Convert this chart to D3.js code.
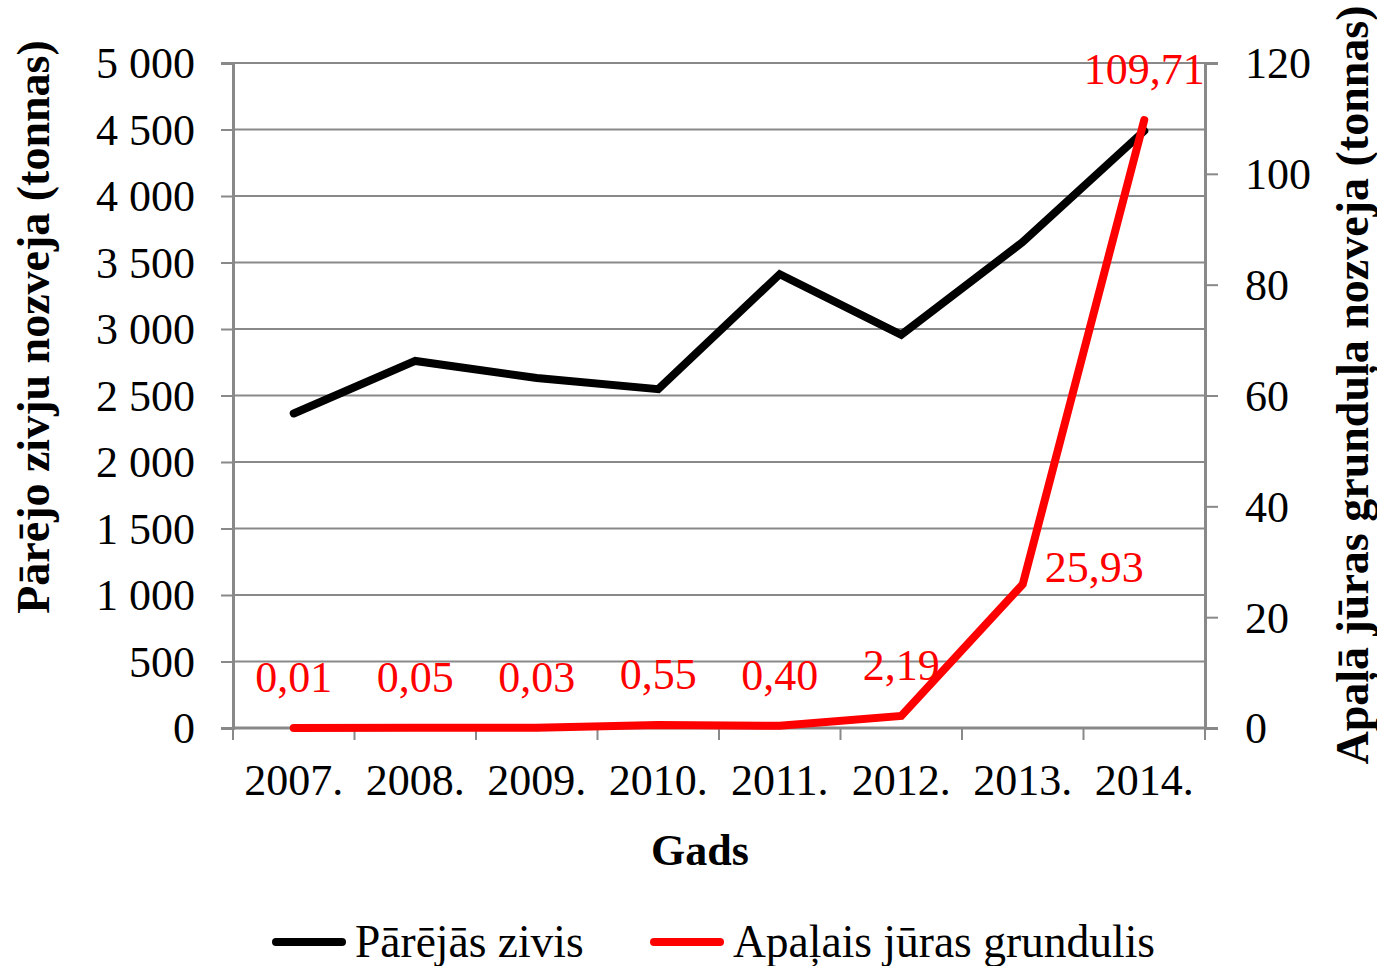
<!DOCTYPE html>
<html>
<head>
<meta charset="utf-8">
<script src="https://cdnjs.cloudflare.com/ajax/libs/d3/7.8.5/d3.min.js"></script>
<style>
  html, body { margin: 0; padding: 0; background: #fff; }
  svg { display: block; }
  text { font-family: "Liberation Serif", "Times New Roman", serif; }
</style>
</head>
<body>
<svg id="chart" width="1377" height="966"></svg>
<script>
// ---- data ----
const years = ["2007.", "2008.", "2009.", "2010.", "2011.", "2012.", "2013.", "2014."];
const otherFish = [2365, 2760, 2632, 2548, 3412, 2957, 3654, 4490];
const roundGoby = [0.01, 0.05, 0.03, 0.55, 0.40, 2.19, 25.93, 109.71];
const leftTicks = [0, 500, 1000, 1500, 2000, 2500, 3000, 3500, 4000, 4500, 5000];
const rightTicks = [0, 20, 40, 60, 80, 100, 120];
const seriesNames = ["Pārējās zivis", "Apaļais jūras grundulis"];
const labelPlacement = ["above", "above", "above", "above", "above", "above", "right", "above"];

// ---- layout ----
const L = 233, R = 1205, T = 63, B = 728;
const gridColor = "#898989";
const svg = d3.select("#chart");

const x = d3.scaleBand().domain(years).range([L, R]).padding(0);
const cx = d => x(d) + x.bandwidth() / 2;
const yL = d3.scaleLinear().domain([0, 5000]).range([B, T]);
const yR = d3.scaleLinear().domain([0, 120]).range([B, T]);

const fmtSpace = d => d3.format(",")(d).replace(/,/g, " ");
const fmtComma = d => d3.format(".2f")(d).replace(".", ",");

// gridlines
svg.append("g").selectAll("line").data(leftTicks.filter(d => d > 0)).join("line")
  .attr("x1", L).attr("x2", R)
  .attr("y1", d => yL(d)).attr("y2", d => yL(d))
  .attr("stroke", gridColor).attr("stroke-width", 2);

// left axis
const gL = svg.append("g").attr("transform", `translate(${L},0)`)
  .call(d3.axisLeft(yL).tickValues(leftTicks).tickFormat(fmtSpace).tickSize(12).tickPadding(26));
// right axis
const gR = svg.append("g").attr("transform", `translate(${R},0)`)
  .call(d3.axisRight(yR).tickValues(rightTicks).tickSize(13).tickPadding(27));
// bottom axis: ticks at band boundaries
const boundaries = years.map(d => x(d)).concat([R]);
const gB = svg.append("g").attr("transform", `translate(0,${B})`);
gB.append("line").attr("x1", L).attr("x2", R).attr("y1", 0).attr("y2", 0)
  .attr("stroke", gridColor).attr("stroke-width", 3);
gB.selectAll("line.tk").data(boundaries).join("line").attr("class", "tk")
  .attr("x1", d => d).attr("x2", d => d).attr("y1", 0).attr("y2", 12)
  .attr("stroke", gridColor).attr("stroke-width", 2);
gB.selectAll("text").data(years).join("text")
  .attr("x", d => cx(d)).attr("y", 67)
  .attr("text-anchor", "middle").attr("font-size", 44).attr("fill", "#000")
  .text(d => d);

[gL, gR].forEach(g => {
  g.select(".domain").attr("stroke", gridColor).attr("stroke-width", 3);
  g.selectAll(".tick line").attr("stroke", gridColor).attr("stroke-width", 2);
  g.selectAll(".tick text").attr("font-size", 44).attr("fill", "#000")
    .attr("font-family", '"Liberation Serif", "Times New Roman", serif').attr("dy", "0.34em");
});

// lines
const lineL = d3.line().x((d, i) => cx(years[i])).y(d => yL(d));
const lineR = d3.line().x((d, i) => cx(years[i])).y(d => yR(d));
svg.append("path").datum(otherFish).attr("d", lineL)
  .attr("fill", "none").attr("stroke", "#000").attr("stroke-width", 8)
  .attr("stroke-linecap", "round").attr("stroke-linejoin", "miter");
svg.append("path").datum(roundGoby).attr("d", lineR)
  .attr("fill", "none").attr("stroke", "#ff0000").attr("stroke-width", 8)
  .attr("stroke-linecap", "round").attr("stroke-linejoin", "miter");

// data labels
svg.append("g").selectAll("text").data(roundGoby).join("text")
  .attr("x", (d, i) => labelPlacement[i] === "right" ? cx(years[i]) + 22 : cx(years[i]))
  .attr("y", (d, i) => labelPlacement[i] === "right" ? yR(d) - 2 : yR(d) - 36)
  .attr("text-anchor", (d, i) => labelPlacement[i] === "right" ? "start" : "middle")
  .attr("font-size", 44).attr("fill", "#ff0000")
  .text(d => fmtComma(d));

// axis titles
svg.append("text").attr("transform", "translate(49,327) rotate(-90)")
  .attr("text-anchor", "middle").attr("font-size", 46).attr("font-weight", "bold")
  .text("Pārējo zivju nozveja (tonnas)");
svg.append("text").attr("transform", "translate(1368,385) rotate(-90)")
  .attr("text-anchor", "middle").attr("font-size", 46).attr("font-weight", "bold")
  .text("Apaļā jūras grunduļa nozveja (tonnas)");
svg.append("text").attr("x", 700).attr("y", 865)
  .attr("text-anchor", "middle").attr("font-size", 44).attr("font-weight", "bold")
  .text("Gads");

// legend
const legend = [
  { name: seriesNames[0], color: "#000", x0: 276 },
  { name: seriesNames[1], color: "#ff0000", x0: 654 }
];
const lg = svg.append("g");
legend.forEach(l => {
  lg.append("line").attr("x1", l.x0).attr("x2", l.x0 + 66).attr("y1", 942).attr("y2", 942)
    .attr("stroke", l.color).attr("stroke-width", 8).attr("stroke-linecap", "round");
  lg.append("text").attr("x", l.x0 + 79).attr("y", 957).attr("font-size", 45.5).attr("fill", "#000")
    .text(l.name);
});
</script>
</body>
</html>
